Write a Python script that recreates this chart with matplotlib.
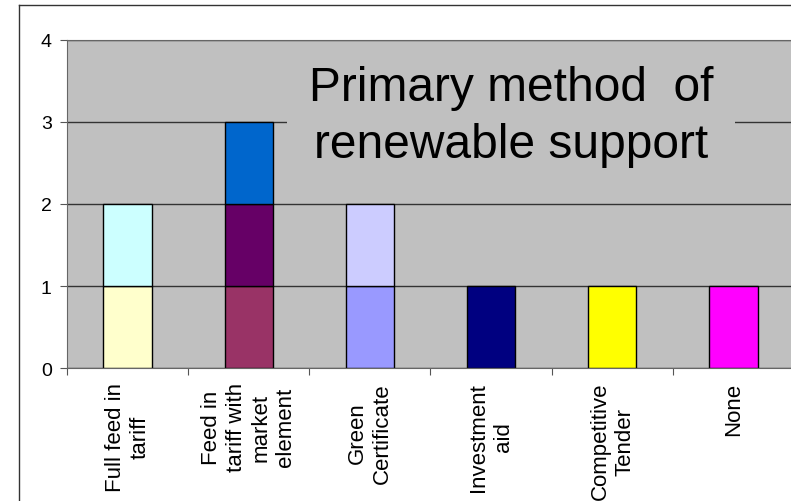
import numpy as np
import matplotlib.pyplot as plt
from matplotlib.lines import Line2D

plt.rcParams['font.family'] = ['Liberation Sans', 'DejaVu Sans']

categories = ["Full feed in\ntariff", "Feed in\ntariff with\nmarket\nelement",
              "Green\nCertificate", "Investment\naid", "Competitive\nTender", "None"]
# stacked segments, bottom to top
level1 = [1, 1, 1, 1, 1, 1]
level2 = [1, 1, 1, 0, 0, 0]
level3 = [0, 1, 0, 0, 0, 0]
colors1 = ['#FFFFCC', '#993366', '#9999FF', '#000080', '#FFFF00', '#FF00FF']
colors2 = ['#CCFFFF', '#660066', '#CCCCFF', '#000080', '#FFFF00', '#FF00FF']
colors3 = ['#CCFFFF', '#0066CC', '#CCCCFF', '#000080', '#FFFF00', '#FF00FF']
title = "Primary method  of\nrenewable support"

fig = plt.figure(figsize=(7.91, 5.02), dpi=100)
ax = fig.add_axes([67 / 791, 133 / 502, 727 / 791, 328 / 502])
ax.set_facecolor('#C0C0C0')

x = np.arange(len(categories))
l1 = np.array(level1)
l2 = np.array(level2)
l3 = np.array(level3)
ax.bar(x, l1, width=0.4, color=colors1, edgecolor='black', linewidth=1)
ax.bar(x[l2 > 0], l2[l2 > 0], bottom=l1[l2 > 0], width=0.4,
       color=[c for c, v in zip(colors2, level2) if v > 0], edgecolor='black', linewidth=1)
ax.bar(x[l3 > 0], l3[l3 > 0], bottom=(l1 + l2)[l3 > 0], width=0.4,
       color=[c for c, v in zip(colors3, level3) if v > 0], edgecolor='black', linewidth=1)

ax.set_xlim(-0.5, len(categories) - 0.5)
ax.set_ylim(0, 4)
ax.set_yticks([0, 1, 2, 3, 4])
ax.set_axisbelow(True)
ax.yaxis.grid(True, color='#333333', linewidth=1)

ax.set_xticks(np.arange(len(categories) + 1) - 0.5, minor=False)
ax.set_xticklabels([])
ax.set_xticks(x, minor=True)
ax.set_xticklabels(categories, minor=True, rotation=90, fontsize=16,
                   multialignment='center', linespacing=1.22)
ax.tick_params(axis='x', which='minor', length=0, pad=10)
ax.tick_params(axis='x', which='major', length=5, color='#555555')
ax.tick_params(axis='y', length=5, color='#555555', labelsize=14, pad=6)

for s in ['left', 'bottom', 'top']:
    ax.spines[s].set_color('#666666')
ax.spines['right'].set_visible(False)

ax.text(0.611, 0.768, title, transform=ax.transAxes, ha='center', va='center',
        fontsize=34.5, linespacing=1.35, zorder=2,
        bbox=dict(boxstyle='square,pad=0.45', facecolor='#C0C0C0', edgecolor='none'))

# outer chart border (left and top visible)
fig.add_artist(Line2D([19 / 791, 19 / 791], [0, 1 - 6 / 502], color='#333333', linewidth=1))
fig.add_artist(Line2D([19 / 791, 1], [1 - 6 / 502, 1 - 6 / 502], color='#333333', linewidth=1))

fig.savefig('out.png', dpi=100)
